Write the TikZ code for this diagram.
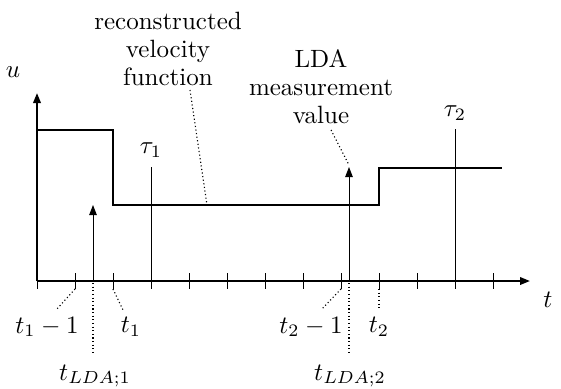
\documentclass[tikz,border=0pt]{standalone}
\usepackage{amsmath,amssymb}
\usetikzlibrary{arrows.meta,positioning,calc}

\begin{document}
\begin{tikzpicture}[x=0.4pt, y=-0.4pt, >={Triangle[length=4pt,width=3pt]},
  axis/.style={line width=0.8pt}, level/.style={line width=0.8pt},
  mark line/.style={line width=0.4pt}, guide/.style={densely dotted, line width=0.45pt},
  txt/.style={align=center, font=\fontsize{10}{11.2}\selectfont, inner sep=0pt}]
\useasboundingbox (0,0) rectangle (561,388);
\coordinate (O) at (37,281);
\coordinate (uend) at (37,93);
\coordinate (tend) at (530,281);
\draw[axis,->] (O) -- (uend);
\draw[axis,->] (O) -- (tend);
\foreach \k in {0,...,12} \draw[mark line] (37+38*\k,273) -- (37+38*\k,289);
\coordinate (s0) at (37,130); \coordinate (s1) at (113,130);
\coordinate (s2) at (113,205); \coordinate (s3) at (379,205);
\coordinate (s4) at (379,168); \coordinate (s5) at (502,168);
\draw[level] (s0) -- (s1) -- (s2) -- (s3) -- (s4) -- (s5);
\node (ulab) at (13,72) {$u$};
\node (tlab) at (548,300) {$t$};
\node (tau1) at (151,150) {$\tau_1$};
\node (tau2) at (455,113) {$\tau_2$};
\draw[mark line] (151,167) coordinate (tau1top) -- (tau1top |- O);
\draw[mark line] (455,129) coordinate (tau2top) -- (tau2top |- O);
\coordinate (lda1) at (93,281); \coordinate (lda1top) at (93,205);
\coordinate (lda2) at (349,281); \coordinate (lda2top) at (349,167);
\draw[mark line,->] (lda1) -- (lda1top);
\draw[mark line,->] (lda2) -- (lda2top);
\node[txt] (recon) at (168,49) {reconstructed\\velocity\\function};
\node[txt] (meas) at (321,87) {LDA\\measurement\\value};
\node (t1m) at (47,327) {$t_1-1$};
\node (t1) at (131,327) {$t_1$};
\node (t2m) at (311,327) {$t_2-1$};
\node (t2) at (379,327) {$t_2$};
\node (tl1) at (95,376) {$t_{LDA;1}$};
\node (tl2) at (350,376) {$t_{LDA;2}$};
\draw[guide] (75,289) -- (56,310);
\draw[guide] (113,289) -- (123,310);
\draw[guide] (341,289) -- (321,310);
\draw[guide] (379,289) -- (379,310);
\draw[guide] (93,283) -- (93,355);
\draw[guide] (349,283) -- (349,355);
\draw[guide] (190,90) -- (207,205);
\draw[guide] (331,130) -- (349,165);
\end{tikzpicture}
\end{document}
